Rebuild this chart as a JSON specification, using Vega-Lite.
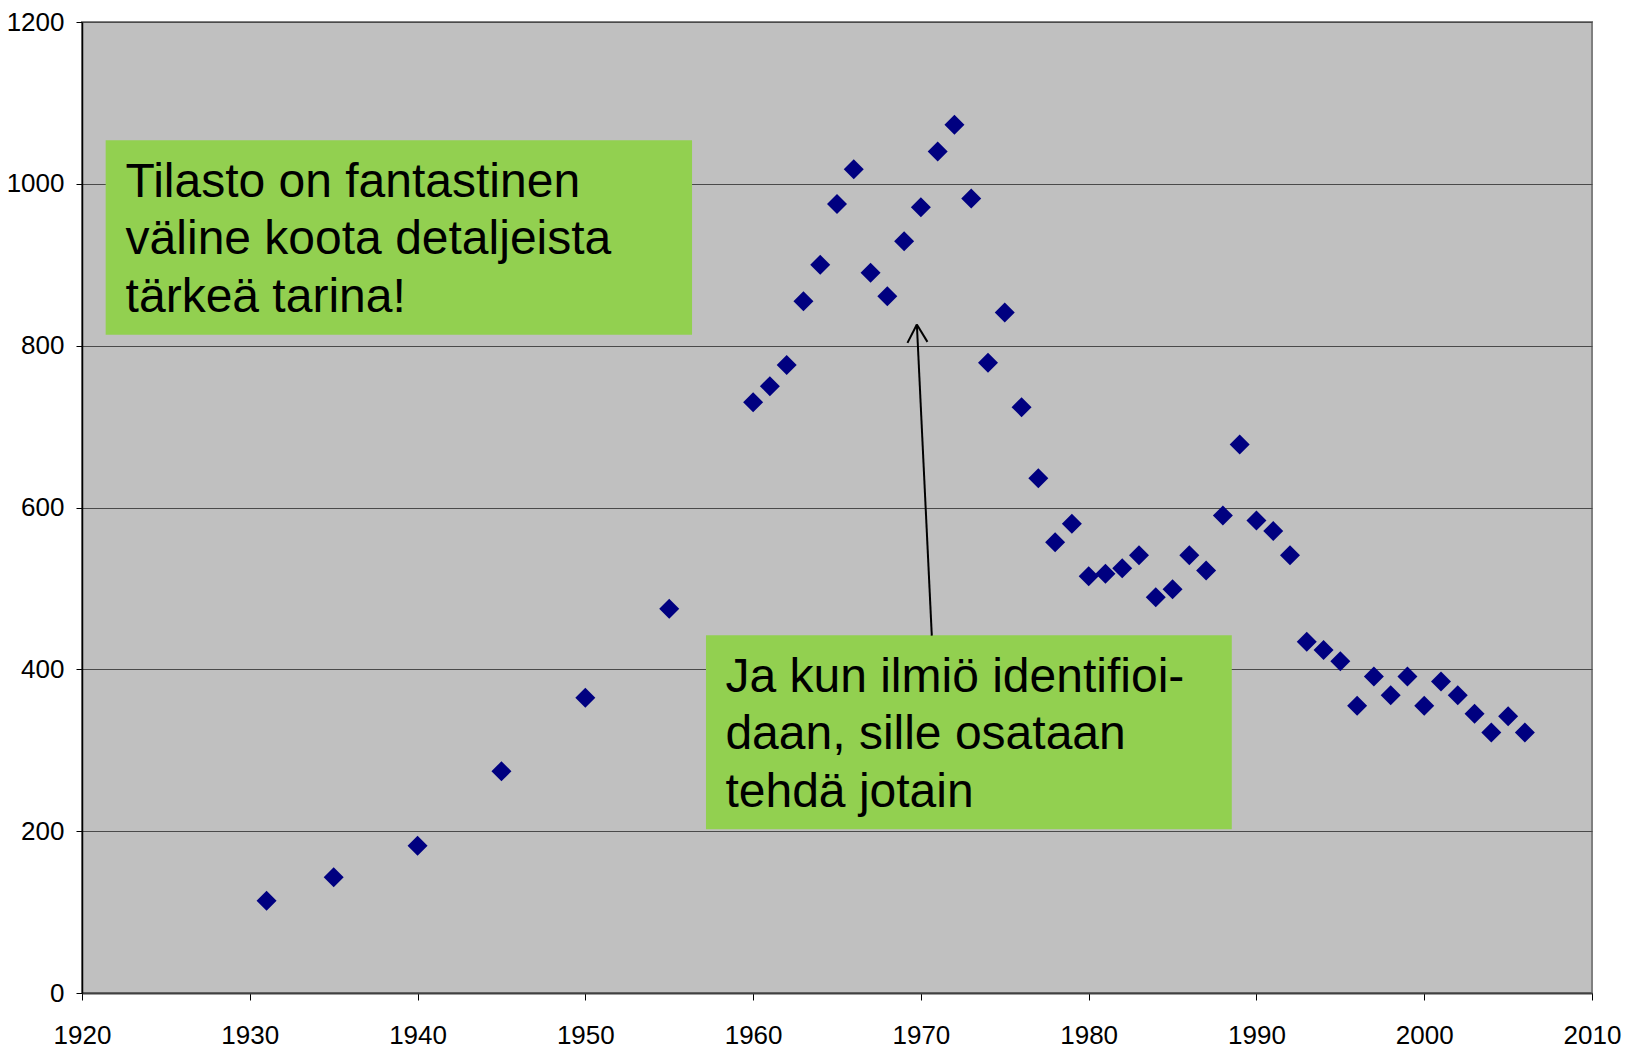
{
  "$schema": "https://vega.github.io/schema/vega-lite/v6.json",
  "autosize": {"type": "none"},
  "padding": {"left": 82, "top": 22, "right": 33, "bottom": 56},
  "width": 1510,
  "height": 971,
  "background": "white",
  "config": {
    "view": {"fill": "#C0C0C0", "stroke": "#808080", "strokeWidth": 2},
    "font": "Liberation Sans"
  },
  "datasets": {
    "points": [
      {"year": 1931, "value": 114}, {"year": 1935, "value": 143}, {"year": 1940, "value": 182},
      {"year": 1945, "value": 274}, {"year": 1950, "value": 365}, {"year": 1955, "value": 475},
      {"year": 1960, "value": 730}, {"year": 1961, "value": 750}, {"year": 1962, "value": 776},
      {"year": 1963, "value": 855}, {"year": 1964, "value": 900}, {"year": 1965, "value": 975},
      {"year": 1966, "value": 1018}, {"year": 1967, "value": 890}, {"year": 1968, "value": 861},
      {"year": 1969, "value": 929}, {"year": 1970, "value": 971}, {"year": 1971, "value": 1040},
      {"year": 1972, "value": 1073}, {"year": 1973, "value": 982}, {"year": 1974, "value": 779},
      {"year": 1975, "value": 841}, {"year": 1976, "value": 724}, {"year": 1977, "value": 636},
      {"year": 1978, "value": 557}, {"year": 1979, "value": 580}, {"year": 1980, "value": 515},
      {"year": 1981, "value": 518}, {"year": 1982, "value": 525}, {"year": 1983, "value": 541},
      {"year": 1984, "value": 489}, {"year": 1985, "value": 499}, {"year": 1986, "value": 541},
      {"year": 1987, "value": 522}, {"year": 1988, "value": 590}, {"year": 1989, "value": 678},
      {"year": 1990, "value": 584}, {"year": 1991, "value": 571}, {"year": 1992, "value": 541},
      {"year": 1993, "value": 434}, {"year": 1994, "value": 424}, {"year": 1995, "value": 410},
      {"year": 1996, "value": 355}, {"year": 1997, "value": 391}, {"year": 1998, "value": 368},
      {"year": 1999, "value": 391}, {"year": 2000, "value": 355}, {"year": 2001, "value": 385},
      {"year": 2002, "value": 368}, {"year": 2003, "value": 345}, {"year": 2004, "value": 322},
      {"year": 2005, "value": 342}, {"year": 2006, "value": 322}
    ],
    "boxes": [
      {"x": 1921.41, "x2": 1956.36, "y": 1053.9, "y2": 813.4},
      {"x": 1957.19, "x2": 1988.53, "y": 442.1, "y2": 202.3}
    ],
    "labels": [
      {"x": 1922.6, "y": 983.8, "label": "Tilasto on fantastinen\nväline koota detaljeista\ntärkeä tarina!"},
      {"x": 1958.35, "y": 372.5, "label": "Ja kun ilmiö identifioi-\ndaan, sille osataan\ntehdä jotain"}
    ],
    "arrow": [
      {"x": 1970.65, "y": 441.6, "x2": 1969.76, "y2": 826.2},
      {"x": 1969.2, "y": 803.5, "x2": 1969.76, "y2": 826.2},
      {"x": 1970.39, "y": 804.7, "x2": 1969.76, "y2": 826.2}
    ]
  },
  "layer": [
    {
      "data": {"name": "points"},
      "mark": {"type": "point", "shape": "diamond", "filled": true, "color": "#000080", "opacity": 1, "size": 400, "strokeWidth": 0},
      "encoding": {
        "x": {
          "field": "year", "type": "quantitative",
          "scale": {"domain": [1920, 2010], "nice": false, "zero": false},
          "axis": {
            "title": null, "values": [1920, 1930, 1940, 1950, 1960, 1970, 1980, 1990, 2000, 2010],
            "format": "d",
            "grid": false, "labelFontSize": 26, "labelColor": "black", "labelFont": "Liberation Sans",
            "tickColor": "black", "tickSize": 7, "tickWidth": 1, "labelPadding": 22,
            "domainColor": "#404040", "domainWidth": 2, "labelFlush": false, "labelOverlap": false
          }
        },
        "y": {
          "field": "value", "type": "quantitative",
          "scale": {"domain": [0, 1200], "nice": false},
          "axis": {
            "title": null, "values": [0, 200, 400, 600, 800, 1000, 1200],
            "format": "d",
            "grid": true, "gridColor": "#4a4a4a", "gridWidth": 1, "gridOpacity": 1,
            "labelFontSize": 26, "labelColor": "black", "labelFont": "Liberation Sans",
            "tickColor": "black", "tickSize": 6, "tickWidth": 1, "labelPadding": 12,
            "domainColor": "black", "domainWidth": 1.5, "labelFlush": false, "labelOverlap": false
          }
        }
      }
    },
    {
      "data": {"name": "boxes"},
      "mark": {"type": "rect", "color": "#92D050", "opacity": 1},
      "encoding": {
        "x": {"field": "x", "type": "quantitative"},
        "x2": {"field": "x2"},
        "y": {"field": "y", "type": "quantitative"},
        "y2": {"field": "y2"}
      }
    },
    {
      "data": {"name": "labels"},
      "mark": {"type": "text", "align": "left", "baseline": "alphabetic", "fontSize": 48, "lineHeight": 57.5, "lineBreak": "\n", "color": "black", "font": "Liberation Sans"},
      "encoding": {
        "x": {"field": "x", "type": "quantitative"},
        "y": {"field": "y", "type": "quantitative"},
        "text": {"field": "label", "type": "nominal"}
      }
    },
    {
      "data": {"name": "arrow"},
      "mark": {"type": "rule", "color": "black", "strokeWidth": 2},
      "encoding": {
        "x": {"field": "x", "type": "quantitative"},
        "x2": {"field": "x2"},
        "y": {"field": "y", "type": "quantitative"},
        "y2": {"field": "y2"}
      }
    }
  ]
}
